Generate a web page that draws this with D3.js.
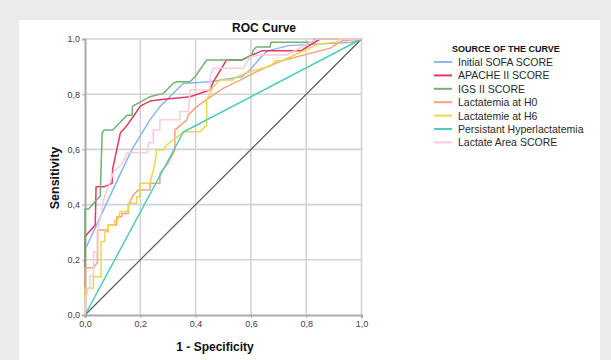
<!DOCTYPE html>
<html>
<head>
<meta charset="utf-8">
<script src="https://cdn.jsdelivr.net/npm/d3@7"></script>
<style>
  html, body { margin: 0; padding: 0; background: #ebebeb; }
  svg { display: block; }
</style>
</head>
<body>
<svg id="chart" width="611" height="360"></svg>
<script>
// ---- Data (1 - Specificity, Sensitivity) ----
const seriesNames = [
  "Initial SOFA SCORE",
  "APACHE II SCORE",
  "IGS II SCORE",
  "Lactatemia at H0",
  "Lactatemie at H6",
  "Persistant Hyperlactatemia",
  "Lactate Area SCORE"
];
const sofaPts = [[0,0],[0,0.236],[0.134,0.525],[0.17,0.6],[0.235,0.707],[0.271,0.755],[0.307,0.791],[0.355,0.839],[0.452,0.845],[0.567,0.863],[0.597,0.888],[0.633,0.93],[0.66,0.957],[0.737,0.976],[0.966,0.988],[1,1]];
const apachePts = [[0,0],[0,0.284],[0.037,0.326],[0.04,0.465],[0.07,0.465],[0.098,0.477],[0.1,0.529],[0.128,0.66],[0.146,0.679],[0.176,0.721],[0.2,0.757],[0.235,0.775],[0.278,0.781],[0.38,0.791],[0.452,0.815],[0.464,0.845],[0.494,0.894],[0.512,0.924],[0.567,0.924],[0.6,0.94],[0.64,0.957],[0.78,0.957],[0.85,1],[1,1]];
const igsPts = [[0,0],[0,0.384],[0.013,0.384],[0.055,0.431],[0.062,0.66],[0.07,0.67],[0.1,0.67],[0.152,0.724],[0.17,0.724],[0.172,0.757],[0.206,0.775],[0.235,0.791],[0.283,0.803],[0.319,0.839],[0.332,0.845],[0.38,0.845],[0.398,0.863],[0.44,0.924],[0.567,0.924],[0.603,0.942],[0.609,0.96],[0.62,0.971],[0.67,0.971],[0.672,0.988],[0.82,0.988],[0.83,1],[1,1]];
const lactH0Pts = [[0,0],[0,0.171],[0.03,0.171],[0.045,0.19],[0.045,0.308],[0.084,0.308],[0.084,0.326],[0.115,0.326],[0.115,0.356],[0.133,0.356],[0.133,0.368],[0.157,0.368],[0.157,0.399],[0.175,0.435],[0.193,0.453],[0.235,0.453],[0.235,0.477],[0.271,0.477],[0.271,0.513],[0.3,0.55],[0.325,0.598],[0.325,0.67],[0.368,0.707],[0.374,0.725],[0.404,0.755],[0.446,0.785],[0.5,0.821],[0.561,0.851],[0.597,0.87],[0.651,0.896],[0.712,0.921],[0.887,0.967],[0.93,0.994],[1,1]];
const lactH6Pts = [[0,0],[0,0.097],[0.03,0.097],[0.03,0.139],[0.058,0.139],[0.058,0.266],[0.072,0.266],[0.072,0.302],[0.084,0.302],[0.084,0.326],[0.108,0.326],[0.108,0.344],[0.12,0.344],[0.127,0.375],[0.157,0.375],[0.157,0.405],[0.187,0.405],[0.187,0.429],[0.199,0.429],[0.199,0.477],[0.235,0.477],[0.253,0.55],[0.259,0.598],[0.283,0.598],[0.295,0.616],[0.319,0.634],[0.34,0.65],[0.355,0.664],[0.416,0.664],[0.44,0.688],[0.44,0.779],[0.464,0.827],[0.488,0.851],[0.536,0.851],[0.542,0.86],[0.597,0.882],[0.639,0.894],[0.67,0.9],[0.688,0.921],[0.712,0.921],[0.845,0.982],[0.911,0.988],[0.917,1],[1,1]];
const persistPts = [[0,0],[0.356,0.663],[1,1]];
const lactAreaPts = [[0,0],[0,0.05],[0.012,0.097],[0.018,0.097],[0.018,0.141],[0.031,0.141],[0.031,0.229],[0.047,0.229],[0.047,0.326],[0.058,0.36],[0.067,0.417],[0.074,0.44],[0.09,0.48],[0.104,0.52],[0.134,0.546],[0.152,0.588],[0.224,0.588],[0.23,0.624],[0.247,0.624],[0.247,0.67],[0.271,0.67],[0.271,0.707],[0.343,0.707],[0.343,0.737],[0.374,0.737],[0.38,0.815],[0.452,0.815],[0.452,0.863],[0.464,0.894],[0.572,0.894],[0.597,0.935],[0.633,0.942],[0.73,0.942],[0.838,1],[1,1]];
const referencePts = [[0,0],[1,1]];
const tickValues = [0, 0.2, 0.4, 0.6, 0.8, 1.0];

const seriesData = [sofaPts, apachePts, igsPts, lactH0Pts, lactH6Pts, persistPts, lactAreaPts];
const seriesColors = ["#8cb6ef", "#e33a62", "#6fb36f", "#f6a27e", "#ead84c", "#4dcdb9", "#fbcade"];

// ---- Layout ----
const svg = d3.select("#chart");
const plot = { left: 85, right: 361.5, top: 39, bottom: 315 };

svg.append("rect").attr("x", 19).attr("y", 20).attr("width", 581).attr("height", 345).attr("fill", "#ffffff");

const x = d3.scaleLinear().domain([0, 1]).range([plot.left, plot.right]);
const y = d3.scaleLinear().domain([0, 1]).range([plot.bottom, plot.top]);
const fmt = v => d3.format(".1f")(v).replace(".", ",");

// gridlines
const grid = svg.append("g");
grid.selectAll(".gx").data(tickValues.slice(1)).join("line")
  .attr("x1", d => x(d)).attr("x2", d => x(d))
  .attr("y1", plot.top).attr("y2", plot.bottom)
  .attr("stroke", "#d3d3d3").attr("stroke-width", 1.6);
grid.selectAll(".gy").data(tickValues.slice(1)).join("line")
  .attr("y1", d => y(d)).attr("y2", d => y(d))
  .attr("x1", plot.left).attr("x2", plot.right)
  .attr("stroke", "#d3d3d3").attr("stroke-width", 1.6);

// axes
const xAxis = svg.append("g").attr("transform", `translate(0,${plot.bottom})`)
  .call(d3.axisBottom(x).tickValues(tickValues).tickFormat(fmt).tickSize(3).tickPadding(3));
const yAxis = svg.append("g").attr("transform", `translate(${plot.left},0)`)
  .call(d3.axisLeft(y).tickValues(tickValues).tickFormat(fmt).tickSize(3).tickPadding(2));
[xAxis, yAxis].forEach(a => {
  a.select(".domain").attr("stroke", "#a9a9a9").attr("stroke-width", 2);
  a.selectAll(".tick line").attr("stroke", "#a9a9a9").attr("stroke-width", 1);
  a.selectAll(".tick text").attr("fill", "#404040")
    .style("font-family", "'Liberation Sans', Arial, sans-serif").style("font-size", "9px");
});

// reference diagonal
const line = d3.line().x(d => x(d[0])).y(d => y(d[1]));
svg.append("path").datum(referencePts).attr("d", line)
  .attr("fill", "none").attr("stroke", "#595959").attr("stroke-width", 1.2);

// curves
svg.append("g").selectAll("path").data(seriesData).join("path")
  .attr("d", line).attr("fill", "none")
  .attr("stroke", (d, i) => seriesColors[i]).attr("stroke-width", 1.5)
  .attr("stroke-linejoin", "round");

// titles
const font = "'Liberation Sans', Arial, sans-serif";
svg.append("text").attr("x", 264).attr("y", 32).attr("text-anchor", "middle")
  .style("font-family", font).style("font-size", "12px").style("font-weight", "bold")
  .attr("fill", "#111").text("ROC Curve");
svg.append("text").attr("transform", "translate(59,178) rotate(-90)").attr("text-anchor", "middle")
  .style("font-family", font).style("font-size", "12.5px").style("font-weight", "bold")
  .attr("fill", "#111").text("Sensitivity");
svg.append("text").attr("x", 215).attr("y", 351).attr("text-anchor", "middle")
  .style("font-family", font).style("font-size", "12px").style("font-weight", "bold")
  .attr("fill", "#111").text("1 - Specificity");

// legend
const legend = svg.append("g");
legend.append("text").attr("x", 452).attr("y", 52)
  .style("font-family", font).style("font-size", "9px").style("font-weight", "bold")
  .attr("fill", "#111").text("SOURCE OF THE CURVE");
const items = legend.selectAll(".item").data(seriesNames).join("g")
  .attr("transform", (d, i) => `translate(0,${62 + i * 13.4})`);
items.append("line").attr("x1", 434).attr("x2", 452).attr("y1", 0).attr("y2", 0)
  .attr("stroke", (d, i) => seriesColors[i]).attr("stroke-width", 2);
items.append("text").attr("x", 458).attr("y", 4)
  .style("font-family", font).style("font-size", "10.5px")
  .attr("fill", "#2a2a2a").text(d => d);
</script>
</body>
</html>
